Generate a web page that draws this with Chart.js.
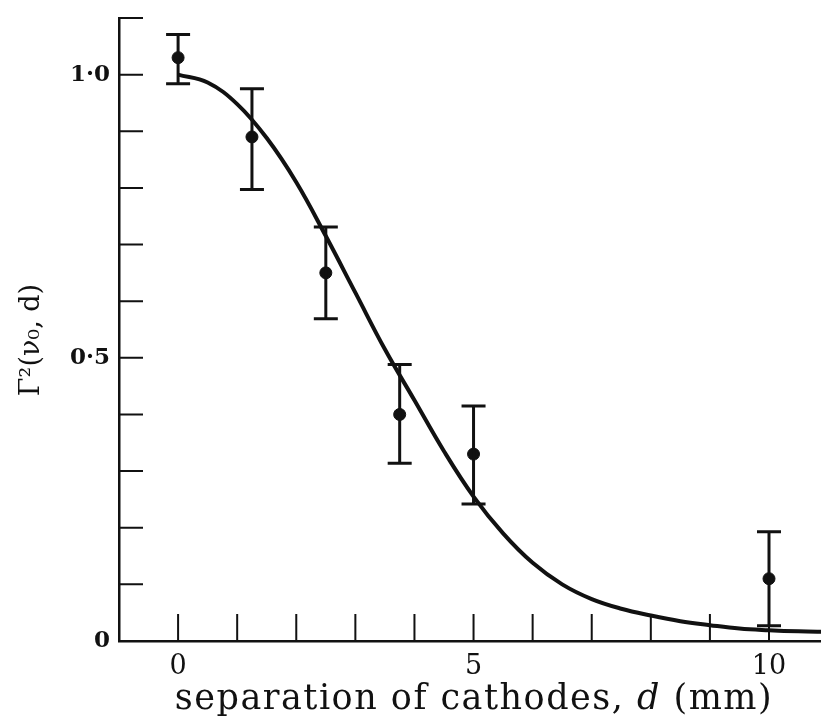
<!DOCTYPE html>
<html>
<head>
<meta charset="utf-8">
<script src="https://cdn.jsdelivr.net/npm/chart.js@4"></script>
<style>
  html, body { margin: 0; padding: 0; background: #fff; }
  #wrap { width: 821px; height: 721px; }
</style>
</head>
<body>
<div id="wrap"><canvas id="chart" width="821" height="721"></canvas></div>
<script>
// fitted curve
const fitX = [0, 0.5, 1, 1.5, 2, 2.5, 3, 3.5, 4, 4.5, 5, 5.5, 6, 6.5, 7, 7.5, 8, 8.5, 9, 9.5, 10, 10.5, 11];
const fitY = [1.0, 0.986, 0.948, 0.888, 0.81, 0.715, 0.615, 0.515, 0.425, 0.335, 0.255, 0.19, 0.138, 0.1, 0.074, 0.057, 0.045, 0.035, 0.028, 0.022, 0.019, 0.017, 0.016];

// measured points with error bars
const pointX = [0, 1.25, 2.5, 3.75, 5, 10];
const pointY = [1.03, 0.89, 0.65, 0.40, 0.33, 0.11];
const errLow = [0.984, 0.797, 0.569, 0.314, 0.242, 0.027];
const errHigh = [1.071, 0.975, 0.731, 0.488, 0.415, 0.193];

// tick labels
const xTickVals = [0, 5, 10];
const xTickText = ["0", "5", "10"];
const yTickVals = [0, 0.5, 1.0];
const yTickText = ["0", "0·5", "1·0"];

const xTitle = ["separation of cathodes, ", "d", " (mm)"];
const yTitle = "Γ²(ν₀, d)";

const SERIF = "'DejaVu Serif', 'Liberation Serif', serif";
const INK = "#111";

function labelFor(v, vals, texts) {
  for (let i = 0; i < vals.length; i++) {
    if (Math.abs(v - vals[i]) < 1e-6) return texts[i];
  }
  return "";
}

// ticks pointing into the plot
const inwardTicks = {
  id: "inwardTicks",
  beforeDatasetsDraw(chart) {
    const ctx = chart.ctx;
    const xs = chart.scales.x, ys = chart.scales.y;
    const left = chart.chartArea.left, bottom = chart.chartArea.bottom;
    ctx.save();
    ctx.strokeStyle = INK;
    ctx.lineWidth = 2;
    ctx.beginPath();
    xs.ticks.forEach(t => {
      if (t.value <= xs.min) return;
      const px = xs.getPixelForValue(t.value);
      ctx.moveTo(px, bottom);
      ctx.lineTo(px, bottom - 27);
    });
    ys.ticks.forEach(t => {
      if (t.value <= ys.min) return;
      const py = ys.getPixelForValue(t.value);
      ctx.moveTo(left, py);
      ctx.lineTo(left + 24, py);
    });
    ctx.stroke();
    ctx.restore();
  }
};

// error bars from the arrays
const errorBars = {
  id: "errorBars",
  afterDatasetsDraw(chart) {
    const ctx = chart.ctx;
    const xs = chart.scales.x, ys = chart.scales.y;
    ctx.save();
    ctx.strokeStyle = INK;
    ctx.lineWidth = 3;
    for (let i = 0; i < pointX.length; i++) {
      const px = xs.getPixelForValue(pointX[i]);
      const lo = ys.getPixelForValue(errLow[i]);
      const hi = ys.getPixelForValue(errHigh[i]);
      ctx.beginPath();
      ctx.moveTo(px, lo); ctx.lineTo(px, hi);
      ctx.moveTo(px - 12, lo); ctx.lineTo(px + 12, lo);
      ctx.moveTo(px - 12, hi); ctx.lineTo(px + 12, hi);
      ctx.stroke();
    }
    ctx.restore();
  }
};

// axis titles (x title has an italic d)
const axisTitles = {
  id: "axisTitles",
  afterDraw(chart) {
    const ctx = chart.ctx;
    ctx.save();
    ctx.fillStyle = INK;
    ctx.textBaseline = "middle";
    ctx.letterSpacing = "1.5px";
    const fonts = ["35px " + SERIF, "italic 35px " + SERIF, "35px " + SERIF];
    let total = 0;
    xTitle.forEach((s, i) => { ctx.font = fonts[i]; total += ctx.measureText(s).width; });
    let x = 474 - total / 2;
    xTitle.forEach((s, i) => {
      ctx.font = fonts[i];
      ctx.textAlign = "left";
      ctx.fillText(s, x, 700);
      x += ctx.measureText(s).width;
    });
    ctx.letterSpacing = "0px";
    ctx.translate(32, 340);
    ctx.rotate(-Math.PI / 2);
    ctx.font = "27px " + SERIF;
    ctx.textAlign = "center";
    ctx.fillText(yTitle, 0, 0);
    ctx.restore();
  }
};

const ctx = document.getElementById("chart").getContext("2d");

new Chart(ctx, {
  type: "scatter",
  data: {
    datasets: [
      {
        label: "fit",
        data: fitX.map((x, i) => ({ x: x, y: fitY[i] })),
        showLine: true,
        borderColor: INK,
        borderWidth: 4,
        pointRadius: 0,
        tension: 0.4,
      },
      {
        label: "measured",
        data: pointX.map((x, i) => ({ x: x, y: pointY[i] })),
        pointRadius: 6,
        pointBackgroundColor: INK,
        pointBorderColor: INK,
      },
    ],
  },
  options: {
    responsive: false,
    animation: false,
    layout: { autoPadding: false, padding: { top: 18, right: 0, left: 0, bottom: 0 } },
    plugins: {
      legend: { display: false },
      tooltip: { enabled: false },
    },
    scales: {
      x: {
        type: "linear",
        min: -1,
        max: 10.88,
        afterFit(scale) {
          scale.height = 80;
          scale.paddingLeft = 0;
          scale.paddingRight = 0;
        },
        afterBuildTicks(scale) {
          const t = [];
          for (let v = -1; v <= 10; v++) t.push({ value: v });
          scale.ticks = t;
        },
        grid: { display: false, drawTicks: false },
        border: { display: true, color: INK, width: 2.5 },
        ticks: {
          autoSkip: false,
          maxRotation: 0,
          padding: 10,
          color: INK,
          font: { family: SERIF, size: 27 },
          callback: v => labelFor(v, xTickVals, xTickText),
        },
      },
      y: {
        min: 0,
        max: 1.1,
        afterFit(scale) {
          scale.width = 119;
          scale.paddingTop = 0;
          scale.paddingBottom = 0;
        },
        afterBuildTicks(scale) {
          const t = [];
          for (let k = 0; k <= 11; k++) t.push({ value: k / 10 });
          scale.ticks = t;
        },
        grid: { display: false, drawTicks: false },
        border: { display: true, color: INK, width: 2.5 },
        ticks: {
          autoSkip: false,
          padding: 9,
          color: INK,
          font: { family: SERIF, size: 23, weight: "bold" },
          callback: v => labelFor(v, yTickVals, yTickText),
        },
      },
    },
  },
  plugins: [inwardTicks, errorBars, axisTitles],
});
</script>
</body>
</html>
